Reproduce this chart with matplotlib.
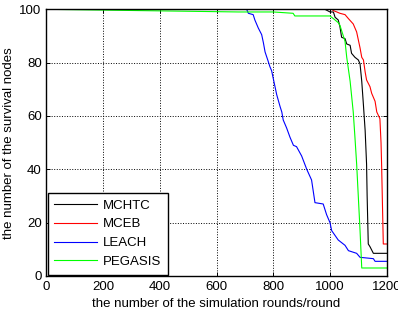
import matplotlib
matplotlib.use("Agg")
import matplotlib.pyplot as plt

plt.rcParams['font.family'] = ['Liberation Sans', 'DejaVu Sans']

# survival nodes vs rounds
mchtc_rounds = [0, 982, 1000, 1012, 1018, 1029, 1035, 1041, 1053, 1059, 1071, 1076, 1088, 1100,
                1106, 1112, 1118, 1124, 1129, 1131, 1135, 1141, 1153, 1200]
mchtc_nodes = [100, 100, 99, 99, 97, 96, 93.5, 89.5, 89, 87, 86.5, 83.5, 82, 81,
               79.5, 73, 64, 54.5, 42, 30, 12, 11, 8.5, 8.5]

mceb_rounds = [0, 1006, 1012, 1024, 1035, 1053, 1065, 1082, 1094, 1100, 1106, 1112, 1118, 1124,
               1129, 1141, 1147, 1159, 1165, 1176, 1180, 1182, 1188, 1200]
mceb_nodes = [100, 100, 99.5, 99, 98.5, 98, 96.5, 94.5, 91.5, 88.5, 85.5, 82, 81, 76.5,
              73.5, 71, 68.5, 65.5, 61.5, 59, 50, 42, 12, 12]

leach_rounds = [0, 706, 712, 729, 735, 747, 759, 765, 771, 782, 788, 794, 800, 812, 824, 830,
                835, 847, 859, 871, 882, 900, 918, 935, 947, 976, 988, 1000, 1006, 1029, 1053,
                1065, 1094, 1106, 1153, 1159, 1200]
leach_nodes = [100, 100, 98.5, 98, 96, 93, 90.5, 87.5, 84, 80.5, 78.5, 77, 74, 68, 63.5, 61.5,
               58.5, 55.5, 52, 49, 48.5, 45, 40, 36, 27.5, 27, 23, 20, 17, 13.5, 11.5,
               9.5, 8.5, 7, 6.5, 5.5, 5.5]

pegasis_rounds = [0, 677, 800, 870, 876, 1000, 1006, 1012, 1029, 1035, 1041, 1047, 1053, 1059,
                  1071, 1082, 1088, 1094, 1100, 1106, 1112, 1200]
pegasis_nodes = [100, 99, 99, 98.5, 97.5, 97.5, 97, 96.5, 95, 94, 92, 90, 88, 82,
                 73, 61.5, 52, 42, 29.5, 17, 3, 3]

fig = plt.figure(figsize=(3.98, 3.12), dpi=100)
ax = fig.add_axes([0.1168, 0.1154, 0.8548, 0.8548])

ax.plot(mchtc_rounds, mchtc_nodes, color='k', lw=0.8, label='MCHTC')
ax.plot(mceb_rounds, mceb_nodes, color='#ff0000', lw=0.8, label='MCEB')
ax.plot(leach_rounds, leach_nodes, color='#0000ff', lw=0.8, label='LEACH')
ax.plot(pegasis_rounds, pegasis_nodes, color='#00ff00', lw=0.8, label='PEGASIS')

ax.set_xlim(0, 1200)
ax.set_ylim(0, 100)
ax.set_xticks([0, 200, 400, 600, 800, 1000, 1200])
ax.set_yticks([0, 20, 40, 60, 80, 100])
ax.grid(True, color='k', linestyle=':', lw=0.7)
ax.tick_params(direction='in', top=True, right=True, length=3, width=0.7,
               labelsize=9.5, pad=3.5)
for s in ax.spines.values():
    s.set_linewidth(1.0)

ax.set_xlabel('the number of the simulation rounds/round', fontsize=9.5, labelpad=4)
ax.set_ylabel('the number of the survival nodes', fontsize=9.5, labelpad=3.5)

leg = ax.legend(loc='lower left', fontsize=9.5, frameon=True, fancybox=False,
                borderaxespad=0.1, handlelength=3.2, labelspacing=0.5,
                handletextpad=0.5, borderpad=0.5)
leg.get_frame().set_edgecolor('k')
leg.get_frame().set_linewidth(1.0)
leg.get_frame().set_alpha(1)

plt.savefig('out.png', dpi=100)
